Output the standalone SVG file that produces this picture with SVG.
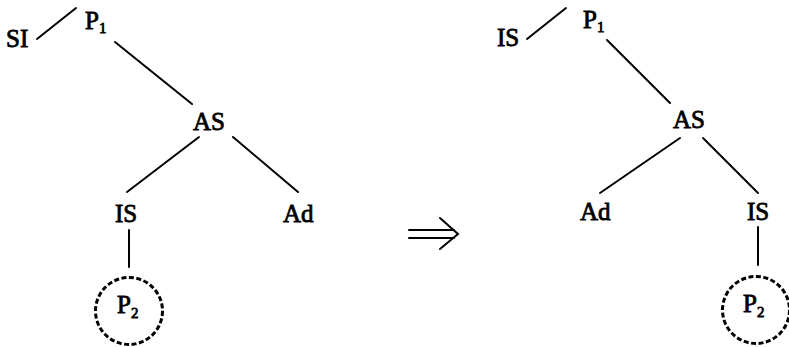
<svg xmlns="http://www.w3.org/2000/svg" width="789" height="347" viewBox="0 0 789 347">
<style>
.t{font-family:"Liberation Serif","Times New Roman",serif;font-size:25px;fill:#000;stroke:#000;stroke-width:0.8}
.s{font-size:15px}
.e{stroke:#000;stroke-width:2;fill:none;stroke-linecap:round}
.c{stroke:#000;stroke-width:3;fill:none;stroke-dasharray:5 2.5}
</style>
<rect width="789" height="347" fill="#fff"/>
<g id="connectors">
<line class="e" x1="37" y1="39" x2="76" y2="8"/>
<line class="e" x1="115" y1="42" x2="192" y2="104"/>
<line class="e" x1="199" y1="137" x2="127" y2="192"/>
<line class="e" x1="233" y1="137" x2="298" y2="192"/>
<line class="e" x1="129" y1="230" x2="129" y2="267"/>
<line class="e" x1="527" y1="39" x2="566" y2="8"/>
<line class="e" x1="607" y1="40" x2="670" y2="103"/>
<line class="e" x1="680" y1="138" x2="600" y2="193"/>
<line class="e" x1="703" y1="138" x2="758" y2="193"/>
<line class="e" x1="758" y1="227" x2="758" y2="265"/>
</g>
<g id="l-SI"><text class="t" x="6" y="47">SI</text></g>
<g id="l-P1"><text class="t" x="85" y="29">P<tspan class="s" dy="4">1</tspan></text></g>
<g id="l-AS"><text class="t" x="193" y="130">AS</text></g>
<g id="l-IS"><text class="t" x="115" y="222">IS</text></g>
<g id="l-Ad"><text class="t" x="283" y="222">Ad</text></g>
<g id="l-P2"><circle class="c" cx="129" cy="311" r="33.5"/><text class="t" x="117" y="313">P<tspan class="s" dy="5">2</tspan></text></g>
<g id="arrow">
<path class="e" d="M409 230 H454 M409 238 H454 M440 218 L458 234 L440 249"/>
</g>
<g id="r-IS1"><text class="t" x="497" y="46">IS</text></g>
<g id="r-P1"><text class="t" x="583" y="28">P<tspan class="s" dy="4">1</tspan></text></g>
<g id="r-AS"><text class="t" x="673" y="128">AS</text></g>
<g id="r-Ad"><text class="t" x="580" y="220">Ad</text></g>
<g id="r-IS2"><text class="t" x="747" y="220">IS</text></g>
<g id="r-P2"><circle class="c" cx="756" cy="310" r="33.5"/><text class="t" x="743" y="312">P<tspan class="s" dy="5">2</tspan></text></g>
</svg>
